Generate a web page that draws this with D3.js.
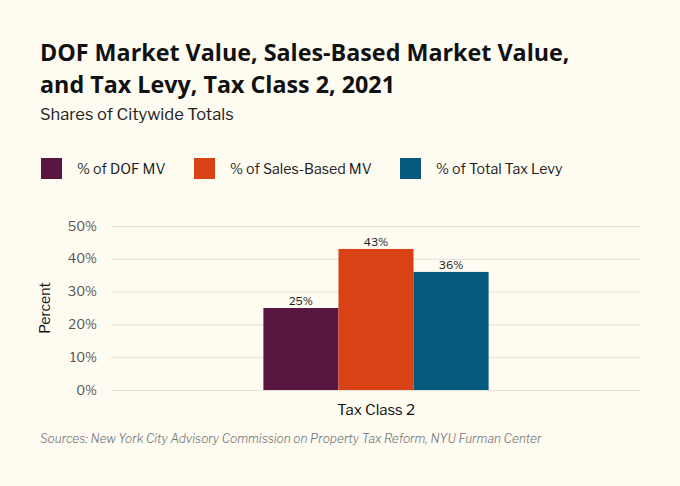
<!DOCTYPE html>
<html>
<head>
<meta charset="utf-8">
<script src="https://cdn.jsdelivr.net/npm/d3@7"></script>
<style>
  body { margin: 0; background: #fefbf1; }
  text { font-family: "Libre Franklin", Roboto, "Noto Sans", sans-serif; }
</style>
</head>
<body>
<svg id="chart" width="680" height="486"></svg>
<script>
var categories = ['Tax Class 2'];
var seriesNames = ['% of DOF MV', '% of Sales-Based MV', '% of Total Tax Levy'];
var dofMV = [25];
var salesMV = [43];
var taxLevy = [36];
var yTicks = [0, 10, 20, 30, 40, 50];
var colors = ['#581640', '#d84214', '#035a7a'];

var svg = d3.select('#chart');
svg.append('rect').attr('width', 680).attr('height', 486).attr('fill', '#fefbf1');

var margin = { left: 112, right: 40, top: 226, bottom: 96 };
var width = 680 - margin.left - margin.right;
var height = 486 - margin.top - margin.bottom;

// titles
var titleFont = '"Open Sans", Roboto, sans-serif';
svg.append('text').attr('x', 40).attr('y', 61)
  .style('font-family', titleFont)
  .style('font-size', '23.3px').style('font-weight', 700).attr('fill', '#111')
  .text('DOF Market Value, Sales-Based Market Value,');
svg.append('text').attr('x', 40).attr('y', 93)
  .style('font-family', titleFont)
  .style('font-size', '23.3px').style('font-weight', 700).attr('fill', '#111')
  .text('and Tax Levy, Tax Class 2, 2021');
svg.append('text').attr('x', 40).attr('y', 120)
  .style('font-size', '16.5px').attr('fill', '#222')
  .text('Shares of Citywide Totals');

// legend
var legendX = [41, 194, 400];
var legend = svg.selectAll('g.legend').data(seriesNames).enter().append('g')
  .attr('class', 'legend')
  .attr('transform', function(d, i) { return 'translate(' + legendX[i] + ',158)'; });
legend.append('rect').attr('width', 21).attr('height', 21)
  .attr('fill', function(d, i) { return colors[i]; });
legend.append('text').attr('x', 36).attr('y', 16)
  .style('font-size', '14.2px').attr('fill', '#222')
  .text(function(d) { return d; });

var g = svg.append('g').attr('transform', 'translate(' + margin.left + ',' + margin.top + ')');

var x0 = d3.scaleBand().domain(categories).range([0, width]).padding(0.402);
var x1 = d3.scaleBand().domain(seriesNames).range([0, x0.bandwidth()]);
var y = d3.scaleLinear().domain([0, 50]).range([height, 0]);

// gridlines + y axis
g.append('g')
  .call(d3.axisLeft(y).tickValues(yTicks).tickSize(-width).tickFormat(function(d) { return d + '%'; }))
  .call(function(a) {
    a.select('.domain').remove();
    a.selectAll('.tick line').attr('stroke', '#e2e0d8');
    a.selectAll('.tick text').attr('x', -15).attr('fill', '#555').style('font-size', '13px');
  });

var rows = categories.map(function(c, i) {
  return [dofMV[i], salesMV[i], taxLevy[i]];
});

var groups = g.selectAll('g.group').data(rows).enter().append('g')
  .attr('class', 'group')
  .attr('transform', function(d, i) { return 'translate(' + x0(categories[i]) + ',0)'; });

groups.selectAll('rect').data(function(d) { return d; }).enter().append('rect')
  .attr('x', function(d, i) { return x1(seriesNames[i]); })
  .attr('y', function(d) { return y(d); })
  .attr('width', x1.bandwidth())
  .attr('height', function(d) { return height - y(d); })
  .attr('fill', function(d, i) { return colors[i]; });

groups.selectAll('text').data(function(d) { return d; }).enter().append('text')
  .attr('x', function(d, i) { return x1(seriesNames[i]) + x1.bandwidth() / 2; })
  .attr('y', function(d) { return y(d) - 3; })
  .attr('text-anchor', 'middle')
  .style('font-size', '11px').attr('fill', '#222')
  .text(function(d) { return d + '%'; });

// x axis labels
g.append('g').attr('transform', 'translate(0,' + height + ')')
  .call(d3.axisBottom(x0).tickSize(0))
  .call(function(a) {
    a.select('.domain').remove();
    a.selectAll('.tick text').attr('y', 14).attr('dy', '0.71em')
      .attr('fill', '#111').style('font-size', '15px');
  });

// y title
svg.append('text')
  .attr('transform', 'translate(50,' + (margin.top + height / 2) + ') rotate(-90)')
  .attr('text-anchor', 'middle')
  .style('font-size', '14px').attr('fill', '#111')
  .text('Percent');

// source
svg.append('text').attr('x', 40).attr('y', 443)
  .style('font-size', '12px').style('font-style', 'italic').style('font-weight', 300).attr('fill', '#777')
  .text('Sources: New York City Advisory Commission on Property Tax Reform, NYU Furman Center');
</script>
</body>
</html>
